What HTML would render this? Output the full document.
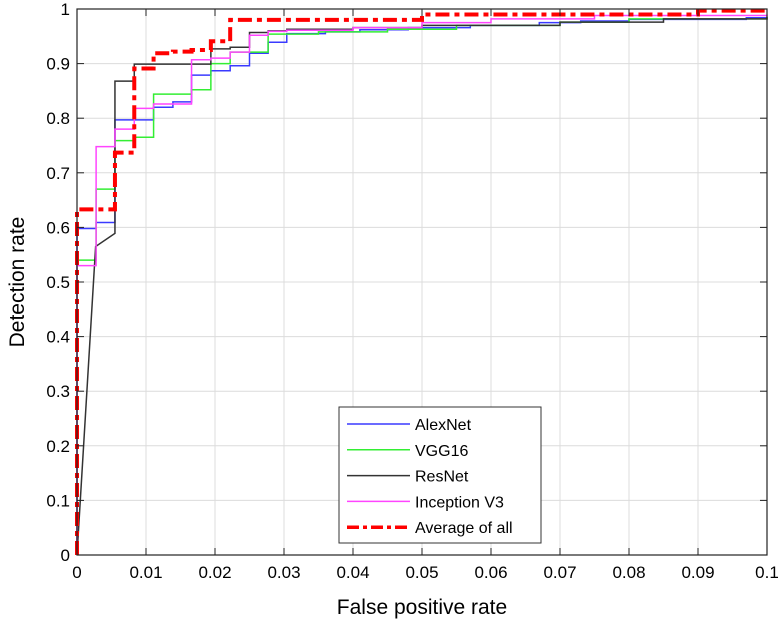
<!DOCTYPE html>
<html><head><meta charset="utf-8"><style>
body{margin:0;background:#fff;}
svg text{font-family:"Liberation Sans",Arial,sans-serif;}
</style></head><body>
<svg id="chart" width="780" height="626" xmlns="http://www.w3.org/2000/svg">
<g id="grid"></g>
<g id="series"></g>
<g id="axes"></g>
<text x="422" y="614" font-size="21" text-anchor="middle">False positive rate</text>
<text transform="translate(24,282) rotate(-90)" font-size="21" text-anchor="middle">Detection rate</text>
<g id="legend"></g>
</svg>
<script>
const xTicks=[0,0.01,0.02,0.03,0.04,0.05,0.06,0.07,0.08,0.09,0.1];
const xTickLabels=["0","0.01","0.02","0.03","0.04","0.05","0.06","0.07","0.08","0.09","0.1"];
const yTicks=[0,0.1,0.2,0.3,0.4,0.5,0.6,0.7,0.8,0.9,1];
const yTickLabels=["0","0.1","0.2","0.3","0.4","0.5","0.6","0.7","0.8","0.9","1"];
const seriesNames=["AlexNet","VGG16","ResNet","Inception V3","Average of all"];
const alexX=[0,0,0.00277,0.0055,0.0111,0.0139,0.0166,0.0194,0.0222,0.025,0.0277,0.0304,0.036,0.041,0.048,0.057,0.067,0.073,0.08,0.097,0.1];
const alexY=[0,0.598,0.609,0.797,0.82,0.83,0.879,0.887,0.896,0.919,0.939,0.955,0.958,0.962,0.966,0.970,0.975,0.978,0.981,0.984,0.984];
const vggX=[0,0,0.00277,0.0055,0.0083,0.0111,0.0166,0.0194,0.0222,0.0277,0.035,0.045,0.055,0.07,0.08,0.1];
const vggY=[0,0.54,0.67,0.759,0.765,0.844,0.852,0.9,0.921,0.954,0.958,0.963,0.970,0.976,0.982,0.985];
const resX=[0,0.0027,0.0055,0.0055,0.0083,0.0194,0.0222,0.025,0.0277,0.0304,0.04,0.05,0.07,0.085,0.1];
const resY=[0,0.565,0.589,0.868,0.899,0.927,0.93,0.957,0.96,0.963,0.966,0.970,0.976,0.982,0.986];
const incX=[0,0,0.00277,0.0055,0.0083,0.0111,0.0166,0.0194,0.0222,0.025,0.0277,0.0304,0.04,0.05,0.06,0.075,0.1];
const incY=[0,0.53,0.748,0.78,0.818,0.826,0.907,0.91,0.921,0.952,0.959,0.961,0.966,0.975,0.982,0.988,0.99];
const avgX=[0,0,0.0055,0.0083,0.0111,0.0139,0.0166,0.0194,0.0222,0.05,0.09,0.1];
const avgY=[0,0.633,0.737,0.891,0.919,0.922,0.925,0.941,0.98,0.99,0.997,0.997];
const X0=77,X1=767,Y0=555,Y1=9;
const sx=v=>X0+(X1-X0)*v/0.1, sy=v=>Y0-(Y0-Y1)*v;
const NS="http://www.w3.org/2000/svg";
function mk(tag,attrs,parent){const e=document.createElementNS(NS,tag);for(const k in attrs)e.setAttribute(k,attrs[k]);parent.appendChild(e);return e;}
const grid=document.getElementById('grid'),axes=document.getElementById('axes'),ser=document.getElementById('series'),leg=document.getElementById('legend');
mk('rect',{x:X0,y:Y1,width:X1-X0,height:Y0-Y1,fill:'#fff'},grid);
xTicks.forEach((t,i)=>{
 const g=mk('line',{x1:sx(t),x2:sx(t),y1:Y0,y2:Y1,stroke:'#dcdcdc','stroke-width':1},grid);
 
 mk('line',{x1:sx(t),x2:sx(t),y1:Y0,y2:Y0-7,stroke:'#222'},axes);
 mk('line',{x1:sx(t),x2:sx(t),y1:Y1,y2:Y1+7,stroke:'#222'},axes);
 const l=mk('text',{x:sx(t),y:Y0+23,'font-size':17,'text-anchor':'middle'},axes);l.textContent=xTickLabels[i];
 
});
yTicks.forEach((t,i)=>{
 const g=mk('line',{x1:X0,x2:X1,y1:sy(t),y2:sy(t),stroke:'#dcdcdc','stroke-width':1},grid);
 
 mk('line',{x1:X0,x2:X0+7,y1:sy(t),y2:sy(t),stroke:'#222'},axes);
 mk('line',{x1:X1,x2:X1-7,y1:sy(t),y2:sy(t),stroke:'#222'},axes);
 const l=mk('text',{x:X0-7,y:sy(t)+6,'font-size':17,'text-anchor':'end'},axes);l.textContent=yTickLabels[i];
 
});
mk('rect',{x:X0,y:Y1,width:X1-X0,height:Y0-Y1,fill:'none',stroke:'#222','stroke-width':1.2},axes);
function stepPath(xs,ys,diag){
 let d='M'+sx(xs[0])+','+sy(ys[0]);
 for(let i=1;i<xs.length;i++){
  if(diag&&i<3){d+=' L'+sx(xs[i])+','+sy(ys[i]);continue;}
  d+=' L'+sx(xs[i])+','+sy(ys[i-1])+' L'+sx(xs[i])+','+sy(ys[i]);
 }
 return d;
}
const styles=[
 {x:alexX,y:alexY,c:'#3a3aff',w:1.5,n:'alexnet-line'},
 {x:vggX,y:vggY,c:'#33ee33',w:1.5,n:'vgg16-line'},
 {x:resX,y:resY,c:'#333',w:1.5,n:'resnet-line',diag:true},
 {x:incX,y:incY,c:'#ff44ff',w:1.5,n:'inception-line'},
 {x:avgX,y:avgY,c:'#ff0000',w:4,n:'average-line',dash:'14,5,5,5'}
];
styles.forEach(s=>{
 const p=mk('path',{d:stepPath(s.x,s.y,s.diag),fill:'none',stroke:s.c,'stroke-width':s.w},ser);
 if(s.dash)p.setAttribute('stroke-dasharray',s.dash);
 
 
});
mk('rect',{x:339,y:407,width:202,height:136,fill:'#fff',stroke:'#333','stroke-width':1},leg);
seriesNames.forEach((n,i)=>{
 const y=424+i*25.8;
 const s=styles[i];
 const ln=mk('line',{x1:347,x2:410,y1:y,y2:y,stroke:s.c,'stroke-width':s.w===4?3.5:1.5},leg);
 if(s.dash)ln.setAttribute('stroke-dasharray','12,4,4,4');
 const t=mk('text',{x:415,y:y+6,'font-size':16},leg);t.textContent=n;
 
 
});
</script>
</body></html>
